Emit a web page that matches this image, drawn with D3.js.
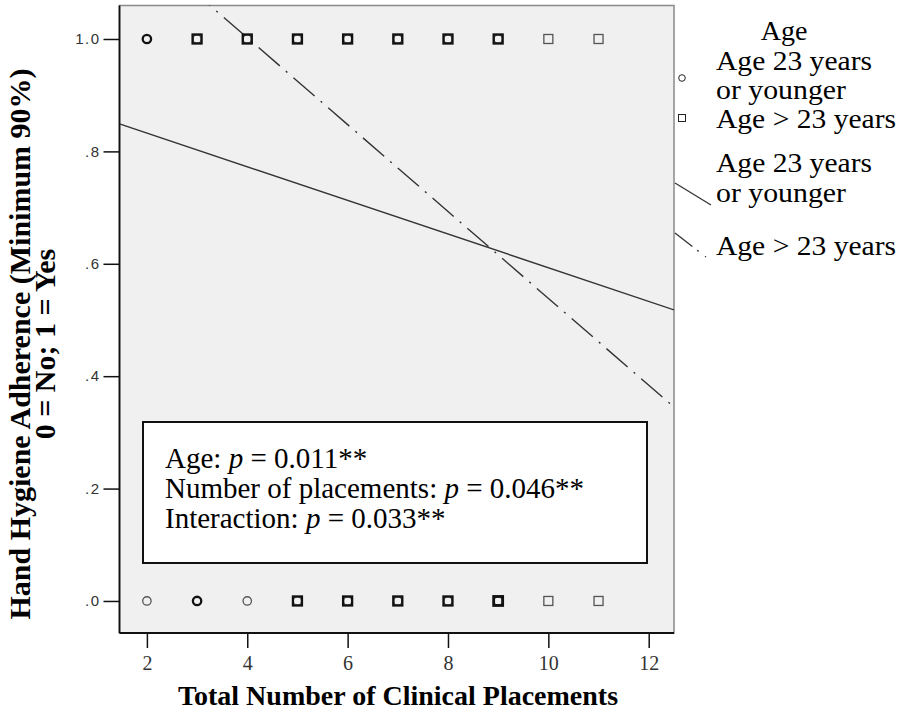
<!DOCTYPE html>
<html>
<head>
<meta charset="utf-8">
<script src="https://cdn.jsdelivr.net/npm/d3@7"></script>
<style>
  html, body { margin: 0; padding: 0; background: #fff; }
  svg { display: block; }
</style>
</head>
<body>
<div id="chart"></div>
<script>
// datos
var placements = [2, 3, 4, 5, 6, 7, 8, 9, 10, 11];
// cuantos puntos se superponen en cada posicion (0 = no hay punto)
var youngYes = [2, 1, 1, 1, 1, 1, 1, 1, 0, 0];
var olderYes = [0, 2, 2, 2, 2, 2, 2, 2, 1, 1];
var youngNo  = [1, 2, 1, 1, 1, 1, 1, 1, 0, 0];
var olderNo  = [0, 0, 0, 2, 2, 2, 2, 3, 1, 1];

// rectas de ajuste (x, y) en los extremos del eje
var fitYoung = [[1.454, 0.849], [12.504, 0.518]];
var fitOlder = [[1.454, 1.199], [12.504, 0.345]];

var yTicks = [0, 0.2, 0.4, 0.6, 0.8, 1.0];
var yTickLabels = ['.0', '.2', '.4', '.6', '.8', '1.0'];
var xTicks = [2, 4, 6, 8, 10, 12];

var legendTitle = 'Age';
var groupNames = [['Age 23 years', 'or younger'], ['Age > 23 years']];

var W = 900, H = 717;
var plot = {left: 119.5, right: 674, top: 5.5, bottom: 633};

var svg = d3.select('#chart').append('svg')
  .attr('width', W)
  .attr('height', H);

var xScale = d3.scaleLinear().domain([1.454, 12.504]).range([plot.left, plot.right]);
var yScale = d3.scaleLinear().domain([-0.057, 1.0596]).range([plot.bottom, plot.top]);

// fondo del area del grafico
svg.append('rect')
  .attr('x', plot.left)
  .attr('y', plot.top)
  .attr('width', plot.right - plot.left)
  .attr('height', plot.bottom - plot.top)
  .attr('fill', '#f0f0f0')
  .attr('stroke', '#8a8a8a')
  .attr('stroke-width', 1.5);

svg.append('clipPath').attr('id', 'clip')
  .append('rect')
  .attr('x', plot.left)
  .attr('y', plot.top)
  .attr('width', plot.right - plot.left)
  .attr('height', plot.bottom - plot.top);

// ejes
var yAxis = d3.axisLeft(yScale)
  .tickValues(yTicks)
  .tickFormat(function(d, i) { return yTickLabels[i]; })
  .tickSize(16)
  .tickPadding(3);
var yAxisG = svg.append('g')
  .attr('class', 'y-axis')
  .attr('transform', 'translate(' + plot.left + ',0)')
  .call(yAxis);

var xAxis = d3.axisBottom(xScale)
  .tickValues(xTicks)
  .tickSize(15)
  .tickPadding(8);
var xAxisG = svg.append('g')
  .attr('class', 'x-axis')
  .attr('transform', 'translate(0,' + plot.bottom + ')')
  .call(xAxis);

svg.selectAll('.domain').remove();
svg.selectAll('.tick line').attr('stroke', '#111').attr('stroke-width', 1.5);
yAxisG.selectAll('text')
  .attr('font-family', 'Liberation Sans, Arial, sans-serif')
  .attr('font-size', 15)
  .attr('letter-spacing', 1.5)
  .attr('fill', '#333');
xAxisG.selectAll('text')
  .attr('font-family', 'Liberation Serif, Times New Roman, serif')
  .attr('font-size', 20)
  .attr('fill', '#333');

// lineas izquierda e inferior del marco
svg.append('line')
  .attr('x1', plot.left).attr('x2', plot.left)
  .attr('y1', plot.top).attr('y2', plot.bottom)
  .attr('stroke', '#111').attr('stroke-width', 1.8);
svg.append('line')
  .attr('x1', plot.left).attr('x2', plot.right)
  .attr('y1', plot.bottom).attr('y2', plot.bottom)
  .attr('stroke', '#111').attr('stroke-width', 1.8);

// rectas de ajuste
var line = d3.line()
  .x(function(d) { return xScale(d[0]); })
  .y(function(d) { return yScale(d[1]); });
var lines = svg.append('g').attr('clip-path', 'url(#clip)');
lines.append('path')
  .datum(fitYoung)
  .attr('d', line)
  .attr('fill', 'none')
  .attr('stroke', '#333')
  .attr('stroke-width', 1.4);
lines.append('path')
  .datum(fitOlder)
  .attr('d', line)
  .attr('fill', 'none')
  .attr('stroke', '#333')
  .attr('stroke-width', 1.4)
  .attr('stroke-dasharray', '28,8,2,8');

// puntos
function markerStroke(n) { return n > 1 ? '#111' : '#555'; }
function markerWidth(n) { return n > 2 ? 2.8 : (n > 1 ? 2.3 : 1.3); }

function drawCircles(counts, yVal) {
  var pts = placements.map(function(p, i) { return {x: p, n: counts[i]}; })
    .filter(function(d) { return d.n > 0; });
  svg.append('g').selectAll('circle').data(pts).enter().append('circle')
    .attr('cx', function(d) { return xScale(d.x); })
    .attr('cy', yScale(yVal))
    .attr('r', 4.2)
    .attr('fill', 'none')
    .attr('stroke', function(d) { return markerStroke(d.n); })
    .attr('stroke-width', function(d) { return markerWidth(d.n); });
}
function drawSquares(counts, yVal) {
  var pts = placements.map(function(p, i) { return {x: p, n: counts[i]}; })
    .filter(function(d) { return d.n > 0; });
  svg.append('g').selectAll('rect').data(pts).enter().append('rect')
    .attr('x', function(d) { return xScale(d.x) - 4.5; })
    .attr('y', yScale(yVal) - 4.5)
    .attr('width', 9)
    .attr('height', 9)
    .attr('fill', 'none')
    .attr('stroke', function(d) { return markerStroke(d.n); })
    .attr('stroke-width', function(d) { return markerWidth(d.n); });
}
drawCircles(youngYes, 1);
drawSquares(olderYes, 1);
drawCircles(youngNo, 0);
drawSquares(olderNo, 0);

// cuadro de texto con los valores p
var box = svg.append('g');
box.append('rect')
  .attr('x', 143).attr('y', 422)
  .attr('width', 504).attr('height', 141)
  .attr('fill', '#fff')
  .attr('stroke', '#111')
  .attr('stroke-width', 2);
var pLines = [['Age: ', '0.011**'], ['Number of placements: ', '0.046**'], ['Interaction: ', '0.033**']];
pLines.forEach(function(t, i) {
  var tx = box.append('text')
    .attr('x', 165)
    .attr('y', 468 + i * 30)
    .attr('font-family', 'Liberation Serif, Times New Roman, serif')
    .attr('font-size', 29)
    .attr('fill', '#000');
  tx.append('tspan').text(t[0]);
  tx.append('tspan').attr('font-style', 'italic').text('p');
  tx.append('tspan').text(' = ' + t[1]);
});

// titulos de los ejes
svg.append('text')
  .attr('x', (176 + 620) / 2)
  .attr('y', 705)
  .attr('text-anchor', 'middle')
  .attr('font-family', 'Liberation Serif, Times New Roman, serif')
  .attr('font-weight', 'bold')
  .attr('font-size', 28)
  .text('Total Number of Clinical Placements');

var yTitle = svg.append('g').attr('transform', 'translate(0,344) rotate(-90)');
yTitle.append('text')
  .attr('x', 0).attr('y', 30)
  .attr('text-anchor', 'middle')
  .attr('font-family', 'Liberation Serif, Times New Roman, serif')
  .attr('font-weight', 'bold')
  .attr('font-size', 30)
  .text('Hand Hygiene Adherence (Minimum 90%)');
yTitle.append('text')
  .attr('x', 0).attr('y', 55)
  .attr('text-anchor', 'middle')
  .attr('font-family', 'Liberation Serif, Times New Roman, serif')
  .attr('font-weight', 'bold')
  .attr('font-size', 30)
  .text('0 = No; 1 = Yes');

// leyenda
var legend = svg.append('g')
  .attr('font-family', 'Liberation Serif, Times New Roman, serif')
  .attr('font-size', 28)
  .attr('fill', '#000');
legend.append('text')
  .attr('x', 784).attr('y', 40)
  .attr('text-anchor', 'middle')
  .text(legendTitle);

legend.append('circle')
  .attr('cx', 682).attr('cy', 78).attr('r', 3.3)
  .attr('fill', 'none').attr('stroke', '#222').attr('stroke-width', 1);
legend.append('rect')
  .attr('x', 678.5).attr('y', 114.5).attr('width', 7).attr('height', 7)
  .attr('fill', 'none').attr('stroke', '#222').attr('stroke-width', 1);
legend.append('line')
  .attr('x1', 675).attr('y1', 183).attr('x2', 711).attr('y2', 205)
  .attr('stroke', '#333').attr('stroke-width', 1.3);
legend.append('line')
  .attr('x1', 675).attr('y1', 233).attr('x2', 706).attr('y2', 257)
  .attr('stroke', '#333').attr('stroke-width', 1.3)
  .attr('stroke-dasharray', '22,6,2,8');

// filas de la leyenda; el ancho se ajusta al del original
var legendRows = [
  {text: groupNames[0][0], y: 70, w: 156},
  {text: groupNames[0][1], y: 99, w: 130},
  {text: groupNames[1][0], y: 128, w: 180},
  {text: groupNames[0][0], y: 172, w: 156},
  {text: groupNames[0][1], y: 202, w: 130},
  {text: groupNames[1][0], y: 255, w: 180}
];
legend.selectAll('.lg').data(legendRows).enter().append('text')
  .attr('class', 'lg')
  .attr('x', 716)
  .attr('y', function(d) { return d.y; })
  .attr('textLength', function(d) { return d.w; })
  .attr('lengthAdjust', 'spacingAndGlyphs')
  .text(function(d) { return d.text; });
</script>
</body>
</html>
